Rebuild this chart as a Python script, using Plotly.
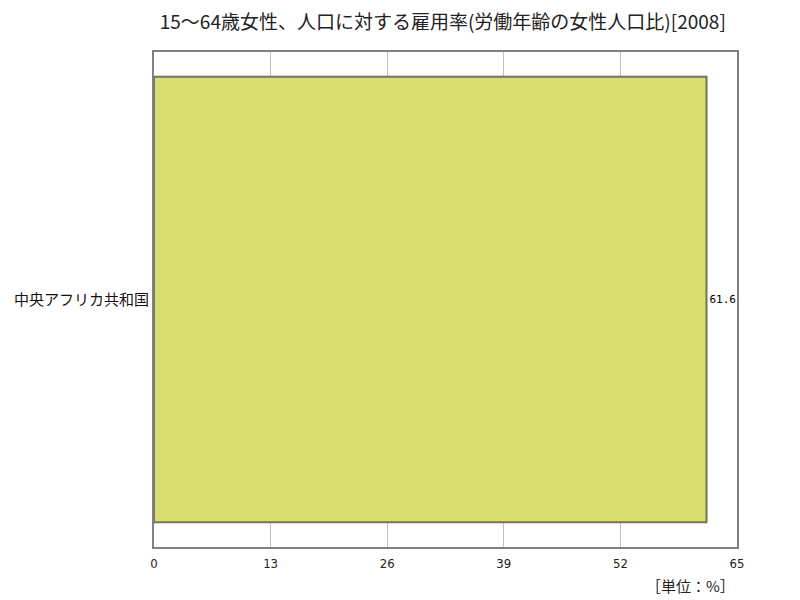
import plotly.graph_objects as go

countries = ['中央アフリカ共和国']
values = [61.6]
tick_vals = [0, 13, 26, 39, 52, 65]

fig = go.Figure()

fig.add_trace(go.Bar(x=values, y=countries, orientation='h', width=0.9,
                     marker=dict(color='#d8de6e', line=dict(color='#74745c', width=2)),
                     text=[str(v) for v in values], textposition='outside',
                     textfont=dict(family='DejaVu Sans Mono', size=11, color='#000'),
                     cliponaxis=False))

fig.update_layout(
    width=792, height=592,
    plot_bgcolor='white', paper_bgcolor='white',
    margin=dict(l=146, r=63, t=44, b=53, autoexpand=False),
    showlegend=False,
    title=dict(text='15～64歳女性、人口に対する雇用率(労働年齢の女性人口比)[2008]',
               x=0.549, xanchor='center', y=0.975, yanchor='middle',
               font=dict(family='Noto Sans CJK JP', size=19, color='#222')),
    xaxis=dict(range=[0, 65], tickvals=tick_vals, side='bottom',
               showgrid=True, gridcolor='#c0c0c0', gridwidth=1,
               zeroline=False, showline=True, linecolor='#808080', linewidth=2, mirror=True,
               ticks='', ticklen=0, ticklabelstandoff=3, automargin=False,
               tickfont=dict(family='DejaVu Sans Condensed', size=13, color='#222')),
    yaxis=dict(showgrid=False, zeroline=False, showline=True, linecolor='#808080',
               linewidth=2, mirror=True, ticks='', automargin=False,
               tickfont=dict(family='Noto Sans CJK JP', size=15, color='#111')),
)

fig.add_annotation(text='［単位：%］', xref='paper', yref='paper', x=1.0, y=-0.053,
                   xanchor='right', yanchor='top', showarrow=False,
                   font=dict(family='Noto Sans CJK JP', size=15, color='#222'))

fig.write_html('out.html')
